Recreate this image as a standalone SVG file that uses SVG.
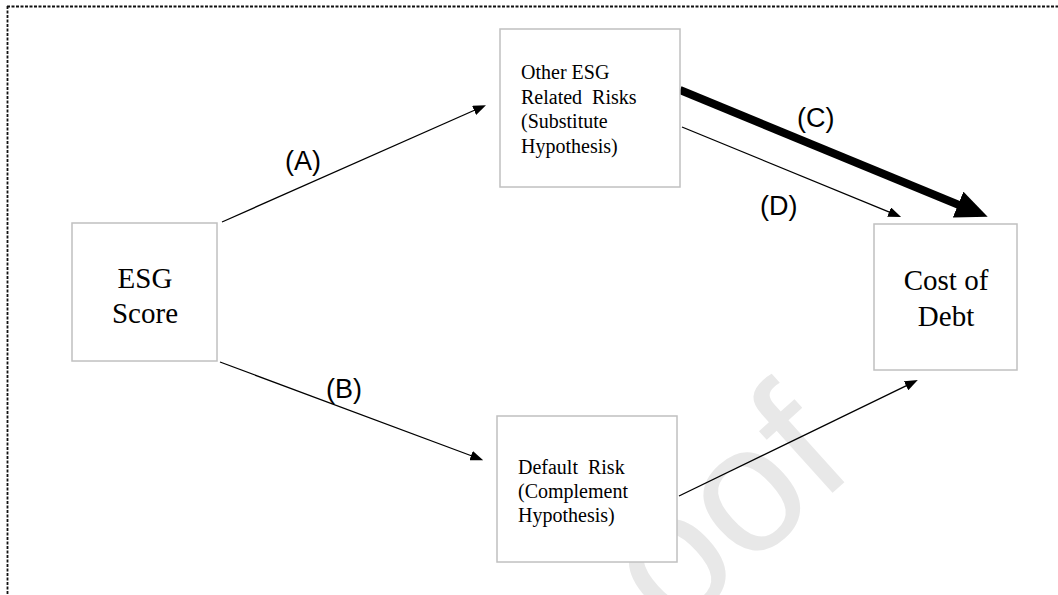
<svg xmlns="http://www.w3.org/2000/svg" width="1058" height="595" viewBox="0 0 1058 595">
<style>
.box{fill:#fff;stroke:#c0c0c0;stroke-width:1.5}
.big{font-family:"Liberation Serif",serif;font-size:29px;fill:#000;text-anchor:middle}
.small{font-family:"Liberation Serif",serif;font-size:20px;fill:#000;white-space:pre}
.lbl{font-family:"Liberation Sans",sans-serif;font-size:27px;fill:#000}
.edge{stroke:#000;stroke-width:1.3;fill:none}
.thick{stroke:#000;stroke-width:8;fill:none}
.wm{font-family:"Liberation Sans",sans-serif;font-size:180px;fill:#e8e8e8}
</style>
<defs>
<marker id="ah" markerUnits="userSpaceOnUse" markerWidth="13" markerHeight="10" viewBox="0 0 13 10" refX="1" refY="5" orient="auto"><path d="M0,0 L13,5 L0,10 z" fill="#000"/></marker>
<marker id="ahBig" markerUnits="userSpaceOnUse" markerWidth="32" markerHeight="28" viewBox="0 0 32 28" refX="1" refY="14" orient="auto"><path d="M0,0 L32,14 L0,28 z" fill="#000"/></marker>
</defs>
<rect width="1058" height="595" fill="#fff"/>
<text class="wm" transform="translate(858,470) rotate(-42)" text-anchor="end">oof</text>
<g id="frame" stroke="#111" stroke-width="1.8" stroke-dasharray="3 1.5" fill="none">
<line x1="7" y1="6.5" x2="1058" y2="6.5"/>
<line x1="7.5" y1="6" x2="7.5" y2="595"/>
</g>
<g id="connectors">
<line class="edge" x1="222" y1="222" x2="475" y2="110" marker-end="url(#ah)"/>
<line class="edge" x1="220" y1="362" x2="472" y2="456" marker-end="url(#ah)"/>
<line class="thick" x1="680" y1="90" x2="959" y2="205" marker-end="url(#ahBig)"/>
<line class="edge" x1="682" y1="127" x2="890" y2="212.4" marker-end="url(#ah)"/>
<line class="edge" x1="679" y1="496" x2="907" y2="385.3" marker-end="url(#ah)"/>
<text class="lbl" x="285" y="170">(A)</text>
<text class="lbl" x="326" y="398">(B)</text>
<text class="lbl" x="797" y="127">(C)</text>
<text class="lbl" x="760" y="215">(D)</text>
</g>
<g id="esg">
<rect class="box" x="72" y="223" width="145" height="138"/>
<text class="big" x="145" y="288">ESG</text>
<text class="big" x="145" y="323">Score</text>
</g>
<g id="other">
<rect class="box" x="500" y="29" width="180" height="158"/>
<text class="small" x="521" y="79">Other ESG</text>
<text class="small" x="521" y="103.5">Related  Risks</text>
<text class="small" x="521" y="128">(Substitute</text>
<text class="small" x="521" y="152.5">Hypothesis)</text>
</g>
<g id="default">
<rect class="box" x="497" y="416" width="180" height="146"/>
<text class="small" x="518" y="474">Default  Risk</text>
<text class="small" x="518" y="498">(Complement</text>
<text class="small" x="518" y="522">Hypothesis)</text>
</g>
<g id="cost">
<rect class="box" x="874" y="224" width="143" height="146"/>
<text class="big" x="946" y="290">Cost of</text>
<text class="big" x="946" y="326">Debt</text>
</g>
</svg>
